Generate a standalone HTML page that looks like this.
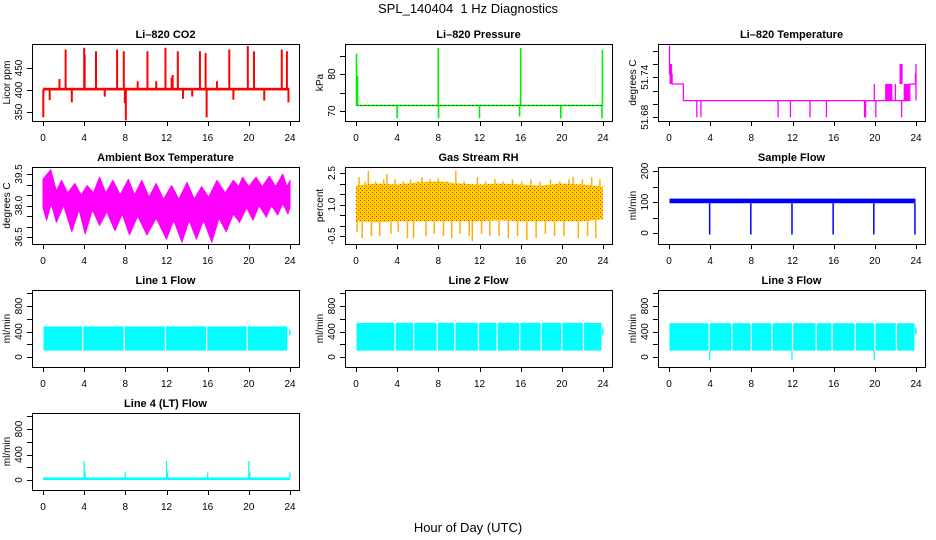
<!DOCTYPE html>
<html><head><meta charset="utf-8">
<style>
html,body{margin:0;padding:0;background:#fff;}
svg{display:block;font-family:"Liberation Sans",Arial,sans-serif;}
</style></head>
<body>
<svg id="chart" width="936" height="540" viewBox="0 0 936 540" xmlns="http://www.w3.org/2000/svg">
<defs>
<pattern id="rhpat" width="4" height="4" patternUnits="userSpaceOnUse">
<rect width="4" height="4" fill="#ffd000"/><rect x="0" y="0" width="1" height="1" fill="#ff2000"/><rect x="2" y="2" width="1" height="1" fill="#ff4000"/>
</pattern>
</defs>
<text x="468" y="13" font-size="13" text-anchor="middle">SPL_140404&#160; 1 Hz Diagnostics</text>
<text x="468" y="532" font-size="13" text-anchor="middle">Hour of Day (UTC)</text>
</svg>
<script>
// ---------- data ----------
const xTicks = [0,4,8,12,16,20,24];

// CO2
const co2Base = 402;
const co2SpikeT = [0.03,0.1,0.65,1.6,2.2,2.8,4.0,4.05,5.15,6.0,7.2,7.85,7.95,8.05,9.2,10.15,11.0,11.9,12.5,12.6,13.1,13.6,14.5,15.25,15.8,15.9,16.9,18.1,18.5,19.9,20.5,21.5,23.2,23.7,23.85];
const co2SpikeV = [338,405,377,425,492,372,496,480,488,385,492,488,370,331,420,488,420,496,428,434,488,380,385,488,484,338,420,492,378,500,488,376,492,488,372];

// Pressure
const presBase = 71.5;
const presSpikeT = [0.05,0.15,4.0,8.0,8.02,12.0,15.9,16.0,19.9,23.9,23.95];
const presSpikeV = [85.5,79.5,68,87,68,68,68.5,87,68,68,86.5];

// Li-820 temperature
const tempStepT = [0,0.05,0.3,1.4,23.4,23.95];
const tempStepV = [51.787,51.745,51.73,51.705,51.73,51.745];
const tempBandT0 = [0.05,21.0,22.4,22.8];
const tempBandT1 = [0.3,21.7,22.7,23.35];
const tempBandLo = [51.73,51.705,51.73,51.705];
const tempBandHi = [51.76,51.73,51.76,51.73];
const tempSpikeT = [2.7,3.1,10.6,11.8,13.7,15.3,19.0,19.1,19.95,20.1,22.0,22.6,24.0];
const tempSpikeV = [51.68,51.68,51.68,51.68,51.68,51.68,51.68,51.68,51.73,51.68,51.73,51.68,51.76];

// Ambient box temperature envelopes
const ambTopT = [0,0.75,1.3,1.8,2.4,3.1,3.7,4.3,4.9,5.5,6.1,6.8,7.5,8.3,8.9,9.6,10.3,11.0,11.7,12.5,13.2,14.0,14.7,15.4,16.1,16.9,17.7,18.5,19.0,19.4,20.0,20.7,21.3,22.0,22.6,23.3,23.7,24];
const ambTop = [39.25,39.7,38.7,39.2,38.6,39.05,38.5,38.95,38.6,39.35,38.6,39.2,38.5,39.25,38.5,39.2,38.4,39.05,38.3,38.95,38.3,39.1,38.3,38.9,38.4,39.2,38.6,39.2,38.9,39.35,38.9,39.35,38.9,39.4,38.9,39.5,38.9,39.2];
const ambBotT = [0,0.35,0.8,1.3,2.0,2.8,3.5,4.1,4.8,5.5,6.2,7.0,7.7,8.4,9.2,10.1,11.0,12.0,12.7,13.5,14.2,14.9,15.6,16.4,17.1,17.8,18.5,19.1,19.8,20.4,21.0,21.7,22.2,22.8,23.3,23.8,24];
const ambBot = [37.9,37.3,38.1,37.2,38.0,36.75,37.8,36.65,37.8,37.05,37.7,36.8,37.6,36.6,37.5,36.6,37.4,36.4,37.3,36.25,37.3,36.4,37.3,36.25,37.4,36.75,37.6,37.2,37.9,37.3,38.0,37.45,38.0,37.55,38.1,37.6,37.9];

// Gas stream RH
const rhT = [0,2,4,6,8,10,12,14,16,18,20,22,24];
const rhHi = [1.9,2.0,1.95,2.05,2.1,2.0,1.95,2.0,1.95,1.9,2.0,1.95,1.85];
const rhLo = [0.2,0.15,0.2,0.2,0.2,0.2,0.2,0.25,0.2,0.2,0.2,0.2,0.3];
const rhSpikeT = [0.1,0.3,0.6,0.9,1.2,1.5,1.9,2.3,2.7,3.0,3.4,3.8,4.1,4.6,5.0,5.3,5.6,6.0,6.4,6.8,7.2,7.6,8.0,8.5,8.9,9.3,9.7,10.1,10.5,11.0,11.3,11.8,12.2,12.6,13.0,13.5,13.9,14.3,14.8,15.2,15.7,16.1,16.6,17.0,17.5,17.9,18.4,18.9,19.3,19.8,20.2,20.7,21.1,21.6,22.0,22.5,22.9,23.3,23.7];
const rhSpikeV = [-0.3,2.3,-0.6,2.1,2.6,-0.5,2.1,-0.5,2.2,2.45,-0.4,2.2,-0.3,2.1,-0.6,2.2,-0.6,2.1,2.3,-0.5,2.2,-0.4,2.25,-0.5,2.1,-0.6,2.6,-0.4,2.1,-0.5,-0.75,2.3,-0.4,2.1,-0.5,2.2,-0.5,2.1,-0.6,2.2,-0.5,2.1,-0.7,2.2,-0.6,2.1,-0.4,2.2,-0.5,2.1,-0.5,2.2,2.3,-0.6,2.2,-0.5,2.3,-0.6,2.2];

// Sample flow
const sfBandLo = 96, sfBandHi = 111;
const sfDropT = [3.95,7.95,11.95,15.95,19.9,23.9];
const sfDropV = [-5,-5,-5,-5,-5,-5];

// Line flows
const l1Lo = 100, l1Hi = 480;
const l1GapT = [3.85,7.9,11.9,15.9,19.85,23.8];
const l2Lo = 100, l2Hi = 535;
const l2GapT = [3.8,5.6,7.9,9.6,11.9,13.7,15.9,18.0,20.0,22.1];
const l3Lo = 100, l3Hi = 530;
const l3GapT = [3.9,6.1,8.0,10.0,12.0,14.3,15.85,18.1,20.0,22.1];
const l3DipT = [3.95,11.95,19.95];
const l3DipV = [-50,-40,-50];
const l4Lo = 0, l4Hi = 40;
const l4SpikeT = [4.0,4.1,8.0,12.0,12.1,16.0,20.0,20.1,24.0];
const l4SpikeV = [300,120,120,300,120,120,300,120,120];

// ---------- drawing ----------
const NS = "http://www.w3.org/2000/svg";
const svg = document.getElementById("chart");
const colL = [32,345,658], rowT = [44,167,290,413], BW = 267, BH = 77;

function el(tag, attrs, parent){
  const e = document.createElementNS(NS, tag);
  for (const k in attrs) e.setAttribute(k, attrs[k]);
  (parent||svg).appendChild(e);
  return e;
}

function panel(col,row,name,title,ylab,v1,r1,v2,r2,yt,yl){
  const L = colL[col], T = rowT[row];
  const g = el("g", {});
  
  
  const sx = t => L + 11 + t*(247/24);
  const sy = v => T + r1 + (v - v1)*(r2 - r1)/(v2 - v1);
  const plot = el("g", {}, g);
  
  
  const tt = el("text", {x: L+BW/2, y: T-6, "font-size": 11, "font-weight": "bold", "text-anchor": "middle"}, g);
  tt.textContent = title;
  
  
  const yt2 = el("text", {x: 0, y: 0, "font-size": 10, "text-anchor": "middle", transform: `translate(${L-22},${T+BH/2}) rotate(-90)`}, g);
  yt2.textContent = ylab;
  
  
  const xa = el("g", {stroke: "#000", "stroke-width": 1}, g);
  
  
  el("line", {x1: sx(0), x2: sx(24), y1: T+BH+0.5, y2: T+BH+0.5}, xa);
  xTicks.forEach(t => {
    const tk = el("line", {x1: Math.round(sx(t))+0.5, x2: Math.round(sx(t))+0.5, y1: T+BH, y2: T+BH+5}, xa);
    
    
    const lb = el("text", {x: sx(t), y: T+BH+20, "font-size": 10, "text-anchor": "middle", stroke: "none"}, xa);
    lb.textContent = t;
    
    
  });
  const ya = el("g", {stroke: "#000", "stroke-width": 1}, g);
  
  
  el("line", {x1: L+0.5, x2: L+0.5, y1: sy(yt[0]), y2: sy(yt[yt.length-1])}, ya);
  yt.forEach(v => {
    const y = Math.round(sy(v))+0.5;
    const tk = el("line", {x1: L-5, x2: L, y1: y, y2: y}, ya);
    
    
  });
  yl.forEach(v => {
    const lb = el("text", {x: 0, y: 0, "font-size": 10, "text-anchor": "middle", stroke: "none", transform: `translate(${L-10},${sy(v)}) rotate(-90)`}, ya);
    lb.textContent = (typeof v === "number" && yl.fmt) ? v.toFixed(yl.fmt) : String(v);
    
    
  });
  return {sx, sy, plot, g, L, T};
}
function box(p, name){
  const b = el("rect", {x: p.L+0.5, y: p.T+0.5, width: BW, height: BH, fill: "none", stroke: "#000", "stroke-width": 1}, p.g);
  
  
}
function vline(p, t, v0, v1, color, w, nm){
  const l = el("line", {x1: p.sx(t), x2: p.sx(t), y1: p.sy(v0), y2: p.sy(v1), stroke: color, "stroke-width": w}, p.plot);
  
  
  return l;
}
function band(p, t0, t1, lo, hi, fill, nm){
  const y0 = p.sy(hi), y1 = p.sy(lo);
  const r = el("rect", {x: p.sx(t0), y: Math.min(y0,y1), width: p.sx(t1)-p.sx(t0), height: Math.abs(y1-y0), fill: fill}, p.plot);
  
  
  return r;
}

// 1. CO2
let lbl;
lbl = [350,400,450];
let p = panel(0,0,"co2","Li\u2013820 CO2","Licor ppm",450,24,350,68,[350,400,450],lbl);
band(p,0.05,23.95,co2Base-3,co2Base+3,"#ff0000","co2-baseline");
co2SpikeT.forEach((t,i)=>{ vline(p,t,co2Base,co2SpikeV[i],"#ff0000",2,"co2-spike"); });
box(p,"co2");

// 2. Pressure
p = panel(1,0,"pressure","Li\u2013820 Pressure","kPa",80,30,70,67,[70,75,80,85],[70,80]);
band(p,0.05,23.95,presBase-0.2,presBase+0.2,"#00ee00","pressure-baseline");
const pb = el("line",{x1:p.sx(0.05),x2:p.sx(23.95),y1:p.sy(presBase),y2:p.sy(presBase),stroke:"#000","stroke-width":1,"stroke-dasharray":"1,3"},p.plot);


presSpikeT.forEach((t,i)=>{ vline(p,t,presBase,presSpikeV[i],"#00ee00",1.6,"pressure-spike"); });
box(p,"pressure");

// 3. Li-820 Temperature
lbl = [51.68,51.74]; lbl.fmt = 2;
p = panel(2,0,"li820-temp","Li\u2013820 Temperature","degrees C",51.74,33.3,51.68,73.3,[51.68,51.70,51.72,51.74,51.76,51.78],lbl);
{
  let d = "";
  tempStepT.forEach((t,i)=>{
    const tn = i < tempStepT.length-1 ? tempStepT[i+1] : 24;
    d += (i===0?"M":"L") + p.sx(t) + "," + p.sy(tempStepV[i]) + "L" + p.sx(tn) + "," + p.sy(tempStepV[i]);
  });
  const sl = el("path",{d:d,fill:"none",stroke:"#ff00ff","stroke-width":1.3},p.plot);
  
  
}
tempBandT0.forEach((t,i)=>{ band(p,t,tempBandT1[i],tempBandLo[i],tempBandHi[i],"#ff00ff","li820-temp-band"); });
tempSpikeT.forEach((t,i)=>{ vline(p,t,51.705,tempSpikeV[i],"#ff00ff",1.3,"li820-temp-spike"); });
box(p,"li820-temp");

// 4. Ambient box temperature
lbl = [36.5,38.0,39.5]; lbl.fmt = 1;
p = panel(0,1,"ambient-temp","Ambient Box Temperature","degrees C",39.5,7,36.5,70,[36.5,37,37.5,38,38.5,39,39.5],lbl);
{
  let d = "";
  ambTopT.forEach((t,i)=>{ d += (i===0?"M":"L") + p.sx(t) + "," + p.sy(ambTop[i]); });
  for (let i = ambBotT.length-1; i >= 0; i--) d += "L" + p.sx(ambBotT[i]) + "," + p.sy(ambBot[i]);
  d += "Z";
  const a = el("path",{d:d,fill:"#ff00ff",stroke:"#ff00ff","stroke-width":1,"stroke-linejoin":"round"},p.plot);
  
  
}
box(p,"ambient-temp");

// 5. Gas stream RH
lbl = [-0.5,1.0,2.5]; lbl.fmt = 1;
p = panel(1,1,"gas-rh","Gas Stream RH","percent",2.5,6,-0.5,69,[-0.5,0,0.5,1,1.5,2,2.5],lbl);
rhSpikeT.forEach((t,i)=>{
  const base = rhSpikeV[i] > 1 ? 1.5 : 0.5;
  vline(p,t,base,rhSpikeV[i],"#ffb000",1.5,"gas-rh-spike");
});
{
  let d = "";
  rhT.forEach((t,i)=>{ d += (i===0?"M":"L") + p.sx(t) + "," + p.sy(rhHi[i]); });
  for (let i = rhT.length-1; i >= 0; i--) d += "L" + p.sx(rhT[i]) + "," + p.sy(rhLo[i]);
  d += "Z";
  const a = el("path",{d:d,fill:"url(#rhpat)"},p.plot);
  
  
}
box(p,"gas-rh");

// 6. Sample flow
lbl = [0,100,200];
p = panel(2,1,"sample-flow","Sample Flow","ml/min",200,4,0,66,[0,50,100,150,200],lbl);
band(p,0.05,23.95,sfBandLo,sfBandHi,"#0000ff","sample-flow-band");
sfDropT.forEach((t,i)=>{ vline(p,t,sfBandLo,sfDropV[i],"#0000ff",1.5,"sample-flow-drop"); });
box(p,"sample-flow");

// 7-9. Line flows
function flowPanel(col,row,name,title,lo,hi,gaps){
  const q = panel(col,row,name,title,"ml/min",0,67,800,16,[0,200,400,600,800,1000],[0,400,800]);
  band(q,0.05,23.85,lo,hi,"#00ffff",name+"-band");
  gaps.forEach(t=>{ vline(q,t,lo-5,hi+5,"#ffffff",1.3,name+"-gap"); });
  return q;
}
p = flowPanel(0,2,"line1-flow","Line 1 Flow",l1Lo,l1Hi,l1GapT);
band(p,23.9,24.05,340,430,"#00ffff","line1-flow-end");
box(p,"line1-flow");
p = flowPanel(1,2,"line2-flow","Line 2 Flow",l2Lo,l2Hi,l2GapT);
band(p,23.9,24.05,350,450,"#00ffff","line2-flow-end");
box(p,"line2-flow");
p = flowPanel(2,2,"line3-flow","Line 3 Flow",l3Lo,l3Hi,l3GapT);
l3DipT.forEach((t,i)=>{ vline(p,t,l3Lo,l3DipV[i],"#00ffff",1.3,"line3-flow-dip"); });
band(p,23.9,24.05,360,460,"#00ffff","line3-flow-end");
box(p,"line3-flow");
p = panel(0,3,"line4-flow","Line 4 (LT) Flow","ml/min",0,67,800,16,[0,200,400,600,800,1000],[0,400,800]);
band(p,0.0,24.0,l4Lo,l4Hi,"#00ffff","line4-flow-band");
l4SpikeT.forEach((t,i)=>{ vline(p,t,l4Hi,l4SpikeV[i],"#00ffff",1.3,"line4-flow-spike"); });
box(p,"line4-flow");
</script>
</body></html>
